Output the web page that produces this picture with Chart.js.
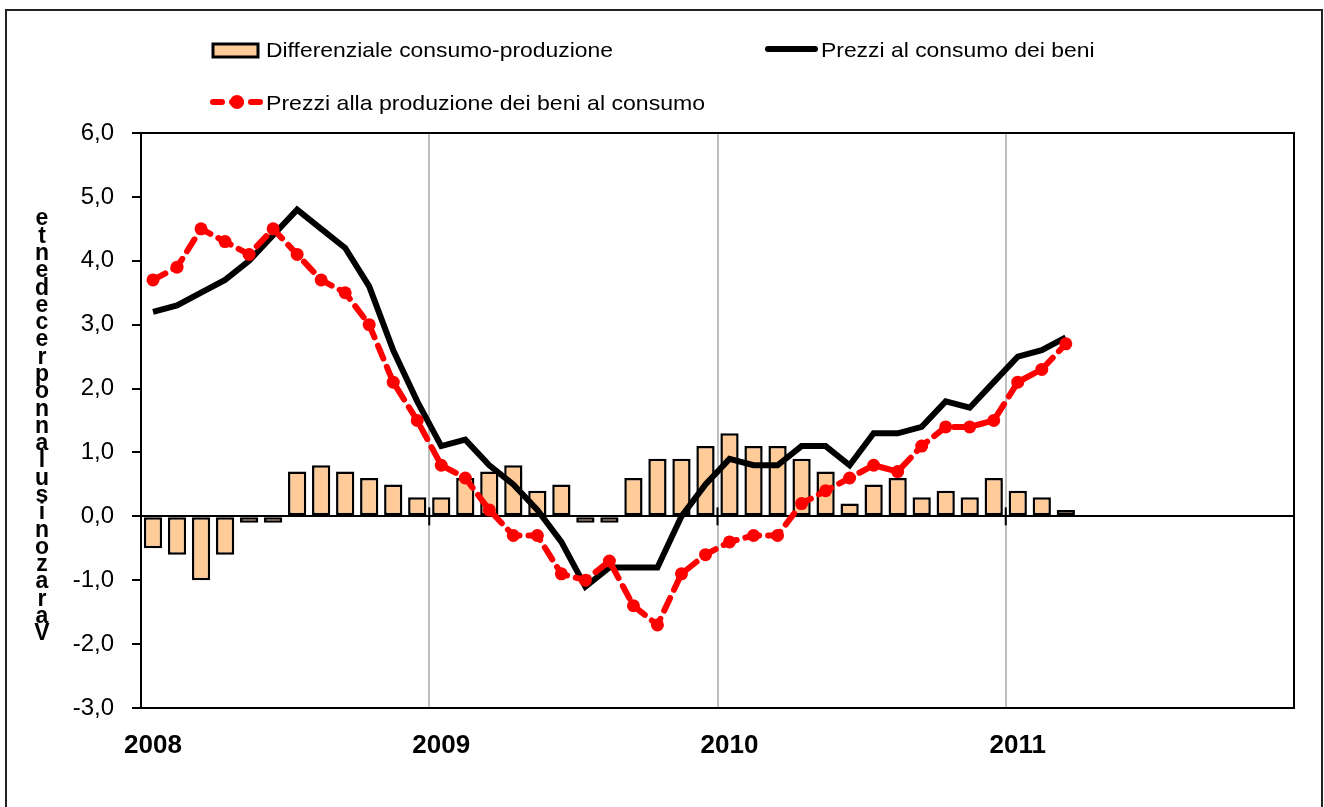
<!DOCTYPE html>
<html>
<head>
<meta charset="utf-8">
<script src="https://cdn.jsdelivr.net/npm/chart.js@4/dist/chart.umd.min.js"></script>
<style>
  html, body { margin: 0; padding: 0; background: #fff; }
  #wrap { width: 1324px; height: 807px; }
</style>
</head>
<body>
<div id="wrap"><canvas id="chart" width="1324" height="807"></canvas></div>
<script>
/* ----------------------------------------------------------
   Dati (variazioni %, gen 2008 - mar 2011)
   ---------------------------------------------------------- */
const years = ['2008', '2009', '2010', '2011'];
const months = [];
for (let y = 0; y < years.length; y++) {
  for (let m = 1; m <= 12; m++) months.push(years[y] + '-' + String(m).padStart(2, '0'));
}

const differenziale = [
  -0.5, -0.6, -1.0, -0.6, -0.1, -0.1, 0.7, 0.8, 0.7, 0.6, 0.5, 0.3,
  0.3, 0.6, 0.7, 0.8, 0.4, 0.5, -0.1, -0.1, 0.6, 0.9, 0.9, 1.1,
  1.3, 1.1, 1.1, 0.9, 0.7, 0.2, 0.5, 0.6, 0.3, 0.4, 0.3, 0.6,
  0.4, 0.3, 0.1
];
const prezziConsumo = [
  3.2, 3.3, 3.5, 3.7, 4.0, 4.4, 4.8, 4.5, 4.2, 3.6, 2.6, 1.8,
  1.1, 1.2, 0.8, 0.5, 0.1, -0.4, -1.1, -0.8, -0.8, -0.8, 0.0, 0.5,
  0.9, 0.8, 0.8, 1.1, 1.1, 0.8, 1.3, 1.3, 1.4, 1.8, 1.7, 2.1,
  2.5, 2.6, 2.8
];
const prezziProduzione = [
  3.7, 3.9, 4.5, 4.3, 4.1, 4.5, 4.1, 3.7, 3.5, 3.0, 2.1, 1.5,
  0.8, 0.6, 0.1, -0.3, -0.3, -0.9, -1.0, -0.7, -1.4, -1.7, -0.9, -0.6,
  -0.4, -0.3, -0.3, 0.2, 0.4, 0.6, 0.8, 0.7, 1.1, 1.4, 1.4, 1.5,
  2.1, 2.3, 2.7
];

const yTitle = 'etnedecerponnalusinozaraV';
const FONT = '"Liberation Sans", Arial, sans-serif';

// testo legenda leggermente allargato, come nell'originale
function wideText(ctx, txt, x, y, sx) {
  ctx.save();
  ctx.translate(x, y);
  ctx.scale(sx, 1);
  ctx.fillText(txt, 0, 0);
  ctx.restore();
}

/* ----------------------------------------------------------
   Plugin: cornice, legenda, titolo asse, tacche sullo zero
   ---------------------------------------------------------- */
const decorPlugin = {
  id: 'decor',
  beforeDraw(chart) {
    const ctx = chart.ctx;
    ctx.save();
    ctx.fillStyle = '#fff';
    ctx.fillRect(0, 0, chart.width, chart.height);
    ctx.strokeStyle = '#222';
    ctx.lineWidth = 2;
    ctx.strokeRect(6, 10, 1316, 820);
    ctx.restore();
  },
  afterDatasetsDraw(chart) {
    const ctx = chart.ctx;
    const x = chart.scales.x, y = chart.scales.y;
    const y0 = y.getPixelForValue(0);
    const a = chart.chartArea;
    ctx.save();
    ctx.strokeStyle = '#000';
    ctx.lineWidth = 2;
    for (let i = 12; i < months.length; i += 12) {
      const px = (x.getPixelForValue(i - 1) + x.getPixelForValue(i)) / 2;
      ctx.beginPath();
      ctx.moveTo(px, y0 - 9);
      ctx.lineTo(px, y0 + 9);
      ctx.stroke();
    }
    ctx.strokeRect(a.left, a.top, a.right - a.left, a.bottom - a.top);
    ctx.restore();
  },
  afterDraw(chart) {
    const ctx = chart.ctx;
    ctx.save();
    ctx.font = '21px ' + FONT;
    ctx.textBaseline = 'middle';
    ctx.fillStyle = '#000';

    // riga 1: barre
    ctx.fillStyle = '#FFCC99';
    ctx.fillRect(213, 44, 45, 13);
    ctx.strokeStyle = '#000';
    ctx.lineWidth = 3;
    ctx.strokeRect(213, 44, 45, 13);
    ctx.fillStyle = '#000';
    wideText(ctx, 'Differenziale consumo-produzione', 266, 51, 1.09);

    // riga 1: linea nera
    ctx.lineWidth = 6;
    ctx.lineCap = 'round';
    ctx.beginPath();
    ctx.moveTo(768, 49);
    ctx.lineTo(815, 49);
    ctx.stroke();
    wideText(ctx, 'Prezzi al consumo dei beni', 821, 51, 1.09);

    // riga 2: linea rossa tratteggiata
    ctx.strokeStyle = '#FF0000';
    ctx.fillStyle = '#FF0000';
    ctx.lineCap = 'round';
    ctx.lineWidth = 6;
    ctx.setLineDash([9, 10]);
    ctx.beginPath();
    ctx.moveTo(213, 102);
    ctx.lineTo(262, 102);
    ctx.stroke();
    ctx.setLineDash([]);
    ctx.beginPath();
    ctx.arc(237, 102, 7, 0, Math.PI * 2);
    ctx.fill();
    ctx.fillStyle = '#000';
    wideText(ctx, 'Prezzi alla produzione dei beni al consumo', 266, 104, 1.1);

    // titolo asse y (lettere impilate)
    ctx.font = 'bold 23px ' + FONT;
    ctx.textAlign = 'center';
    const top = 219, bottom = 634;
    const step = (bottom - top) / (yTitle.length - 1);
    for (let i = 0; i < yTitle.length; i++) {
      ctx.fillText(yTitle[i], 42, top + i * step);
    }
    ctx.restore();
  }
};

/* ----------------------------------------------------------
   Grafico
   ---------------------------------------------------------- */
new Chart(document.getElementById('chart'), {
  type: 'bar',
  data: {
    labels: months,
    datasets: [
      {
        label: 'Prezzi alla produzione dei beni al consumo',
        type: 'line',
        data: prezziProduzione,
        borderColor: '#FF0000',
        backgroundColor: '#FF0000',
        borderWidth: 6,
        borderDash: [14, 9],
        borderCapStyle: 'round',
        pointRadius: 6.5,
        pointBorderWidth: 0,
        pointBackgroundColor: '#FF0000',
        tension: 0,
        order: 1,
      },
      {
        label: 'Prezzi al consumo dei beni',
        type: 'line',
        data: prezziConsumo,
        borderColor: '#000',
        borderWidth: 6,
        pointRadius: 0,
        tension: 0,
        order: 2,
      },
      {
        label: 'Differenziale consumo-produzione',
        data: differenziale,
        backgroundColor: '#FFCC99',
        borderColor: '#000',
        borderWidth: 2.5,
        borderSkipped: false,
        barPercentage: 0.76,
        categoryPercentage: 1,
        order: 3,
      },
    ],
  },
  options: {
    responsive: false,
    animation: false,
    events: [],
    layout: { padding: { left: 0, top: 133, right: 30, bottom: 0 } },
    plugins: {
      legend: { display: false },
      tooltip: { enabled: false },
    },
    scales: {
      x: {
        offset: true,
        grid: {
          offset: true,
          drawTicks: false,
          lineWidth: 2,
          color: ctx => (ctx.index > 0 && ctx.index % 12 === 0) ? '#c0c0c0' : 'rgba(0,0,0,0)',
        },
        border: { display: true, color: '#000', width: 2 },
        ticks: {
          autoSkip: false,
          maxRotation: 0,
          padding: 22,
          color: '#000',
          font: { family: FONT, size: 26, weight: 'bold' },
          callback: (v, i) => i % 12 === 0 ? months[i].slice(0, 4) : '',
        },
        afterFit: s => { s.height = 99; },
      },
      y: {
        min: -3,
        max: 6,
        grid: {
          drawOnChartArea: true,
          lineWidth: 2,
          tickLength: 9,
          tickColor: '#000',
          color: ctx => (ctx.tick && ctx.tick.value === 0) ? '#000' : 'rgba(0,0,0,0)',
        },
        border: { display: true, color: '#000', width: 2 },
        ticks: {
          stepSize: 1,
          padding: 18,
          color: '#000',
          font: { family: FONT, size: 24 },
          callback: v => v.toFixed(1).replace('.', ','),
        },
        afterFit: s => { s.width = 141; },
      },
    },
  },
  plugins: [decorPlugin],
});
</script>
</body>
</html>
